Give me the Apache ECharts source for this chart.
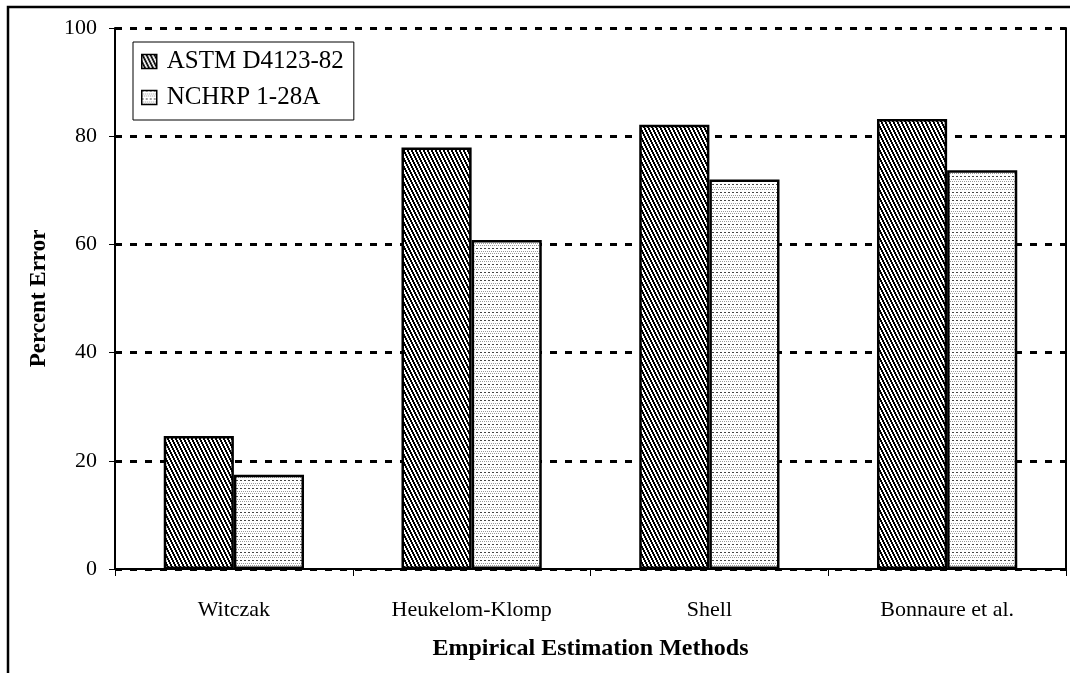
<!DOCTYPE html>
<html>
<head>
<meta charset="utf-8">
<script src="https://cdn.jsdelivr.net/npm/echarts@6/dist/echarts.min.js"></script>
<style>
  html, body { margin: 0; padding: 0; background: #fff; }
  #chart { width: 1070px; height: 673px; }
</style>
</head>
<body>
<div id="chart"></div>
<script>
// Estimation methods on the category axis
const categories = ['Witczak', 'Heukelom-Klomp', 'Shell', 'Bonnaure et al.'];
// Percent error for each test protocol
const astmValues = [24.6, 77.9, 82.1, 83.2];
const nchrpValues = [17.4, 60.8, 72.0, 73.7];
const seriesNames = ['ASTM D4123-82', 'NCHRP 1-28A'];
const yTicks = [0, 20, 40, 60, 80, 100];

const FONT = '"Liberation Serif", "Times New Roman", serif';

// Steep back-diagonal hatching
function hatchPattern() {
  const c = document.createElement('canvas');
  c.width = 4; c.height = 8;
  const ctx = c.getContext('2d');
  ctx.fillStyle = '#fff';
  ctx.fillRect(0, 0, 4, 8);
  ctx.fillStyle = '#000';
  for (let y = 0; y < 8; y++) {
    const x = Math.floor(y / 2) % 4;
    ctx.fillRect(x, y, 1, 1);
    ctx.fillRect((x + 1) % 4, y, 1, 1);
  }
  return c;
}

// Light stipple with dashed rows
function stipplePattern() {
  const c = document.createElement('canvas');
  c.width = 4; c.height = 8;
  const ctx = c.getContext('2d');
  ctx.fillStyle = '#fff';
  ctx.fillRect(0, 0, 4, 8);
  ctx.fillStyle = '#444';
  ctx.fillRect(0, 0, 2, 1);
  ctx.fillStyle = '#9a9a9a';
  ctx.fillRect(1, 3, 1, 1);
  ctx.fillRect(3, 3, 1, 1);
  ctx.fillRect(0, 5, 1, 1);
  ctx.fillRect(2, 5, 1, 1);
  return c;
}

const chart = echarts.init(document.getElementById('chart'), null, { renderer: 'canvas' });

const option = {
  backgroundColor: '#fff',
  animation: false,
  textStyle: { fontFamily: FONT, color: '#000' },
  graphic: [{
    type: 'rect',
    shape: { x: 8, y: 7, width: 1100, height: 720 },
    style: { fill: 'none', stroke: '#000', lineWidth: 2.5 },
    silent: true,
    z: 100
  }],
  grid: { left: 115, right: 4, top: 28, bottom: 104, containLabel: false },
  legend: {
    orient: 'vertical',
    left: 133,
    top: 42,
    padding: [7, 10, 10, 8],
    itemGap: 11,
    itemWidth: 15,
    itemHeight: 14,
    icon: 'rect',
    backgroundColor: '#fff',
    borderColor: '#000',
    borderWidth: 1,
    itemStyle: { borderColor: '#000', borderWidth: 1.5 },
    textStyle: { fontFamily: FONT, fontSize: 25, color: '#000', padding: [0, 0, 0, 5] },
    data: seriesNames
  },
  xAxis: {
    type: 'category',
    data: categories,
    name: 'Empirical Estimation Methods',
    nameLocation: 'middle',
    nameGap: 68,
    nameTextStyle: { fontFamily: FONT, fontSize: 24, fontWeight: 'bold', color: '#000' },
    axisLine: { lineStyle: { color: '#000', width: 2 } },
    axisTick: { show: true, length: 7, lineStyle: { color: '#000', width: 1 } },
    axisLabel: { fontFamily: FONT, fontSize: 22, color: '#000', margin: 30 }
  },
  yAxis: [{
    type: 'value',
    min: 0,
    max: 100,
    interval: 20,
    name: 'Percent Error',
    nameLocation: 'middle',
    nameGap: 64,
    nameTextStyle: { fontFamily: FONT, fontSize: 23, fontWeight: 'bold', color: '#000' },
    axisLine: { show: true, lineStyle: { color: '#000', width: 2 } },
    axisTick: { show: true, length: 6, lineStyle: { color: '#000', width: 1 } },
    axisLabel: {
      fontFamily: FONT, fontSize: 22, color: '#000', margin: 18,
      formatter: v => yTicks.includes(v) ? String(v) : ''
    },
    splitLine: { show: true, lineStyle: { color: '#000', width: 3, type: [7, 8] } }
  }, {
    type: 'value',
    min: 0,
    max: 100,
    interval: 20,
    position: 'right',
    axisLine: { show: true, lineStyle: { color: '#000', width: 2 } },
    axisTick: { show: false },
    axisLabel: { show: false },
    splitLine: { show: false }
  }],
  series: [{
    name: seriesNames[0],
    type: 'bar',
    data: astmValues,
    barGap: '0%',
    barCategoryGap: '41%',
    itemStyle: { color: { image: hatchPattern(), repeat: 'repeat' }, borderColor: '#000', borderWidth: 2.5 }
  }, {
    name: seriesNames[1],
    type: 'bar',
    data: nchrpValues,
    barGap: '0%',
    barCategoryGap: '41%',
    itemStyle: { color: { image: stipplePattern(), repeat: 'repeat' }, borderColor: '#000', borderWidth: 2.5 }
  }]
};

chart.setOption(option);
</script>
</body>
</html>
